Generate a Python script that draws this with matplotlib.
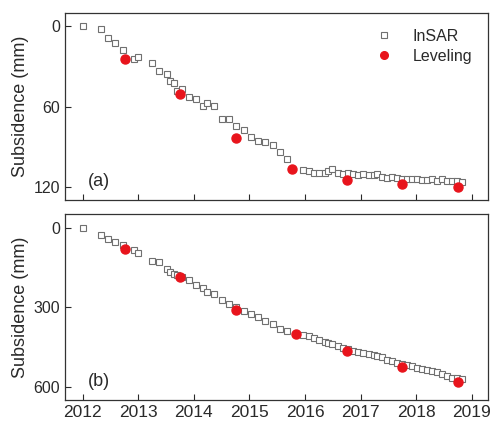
import matplotlib
matplotlib.use("Agg")
import matplotlib.pyplot as plt

plt.rcParams['font.family'] = ['Liberation Sans', 'DejaVu Sans']

# InSAR acquisition dates (decimal year), shared by both points
insar_t = [2012.00, 2012.33, 2012.45, 2012.59, 2012.72, 2012.92, 2012.99, 2013.25,
           2013.38, 2013.51, 2013.58, 2013.64, 2013.69, 2013.79, 2013.91, 2014.04,
           2014.17, 2014.24, 2014.36, 2014.50, 2014.63, 2014.76, 2014.90, 2015.03,
           2015.16, 2015.28, 2015.42, 2015.55, 2015.68, 2015.96,
           2016.07, 2016.16, 2016.25, 2016.36, 2016.42, 2016.49, 2016.60, 2016.69,
           2016.78, 2016.87, 2016.96, 2017.05, 2017.15, 2017.24, 2017.30, 2017.38,
           2017.47, 2017.56, 2017.65, 2017.74, 2017.83, 2017.92, 2018.01, 2018.10,
           2018.19, 2018.28, 2018.37, 2018.46, 2018.55, 2018.64, 2018.73, 2018.82]

insar_a = [0, 2, 8.7, 12.5, 17.5, 24.2, 22.5, 27, 33, 35.7, 40.7, 42.7, 48.2, 47,
           52.5, 54, 59.5, 57, 59.5, 69, 69.5, 74.3, 77.5, 82.5, 85.7, 86.3, 88.7,
           93.7, 99.3, 107.5,
           108.6, 109.5, 110, 109.5, 108.2, 106.7, 110, 110.5, 110, 110.7, 111.2,
           110.7, 111.5, 111.5, 110.5, 112.5, 113.7, 112.5, 113.7, 114.2, 114.2,
           114.5, 114.5, 115, 115, 114.5, 115.5, 114.2, 115.5, 115.7, 116, 116.2]

insar_b = [0, 26, 41, 55, 67, 83, 97, 127, 129, 154, 167, 176, 180, 184, 197, 215,
           227, 242, 250, 272, 287, 297, 315, 325, 338, 351, 364, 383, 390, 403,
           410, 416, 423, 431, 434, 437, 444, 453, 459, 464, 469, 474, 477, 481,
           484, 489, 497, 504, 510, 515, 519, 523, 527, 531, 535, 540, 545, 551,
           559, 566, 568, 570]

# leveling surveys
lev_t = [2012.77, 2013.76, 2014.76, 2015.76, 2016.76, 2017.75, 2018.75]
lev_a = [24.2, 50.5, 83.7, 106.5, 115, 118, 120]
lev_t_b = [2012.77, 2013.76, 2014.76, 2015.84, 2016.76, 2017.75, 2018.75]
lev_b = [80, 186, 311, 400, 464, 525, 582]

years = [2012, 2013, 2014, 2015, 2016, 2017, 2018, 2019]

fig = plt.figure(figsize=(4.91, 4.23), dpi=100)
ax1 = fig.add_axes([0.132, 0.527, 0.862, 0.442])
ax2 = fig.add_axes([0.132, 0.054, 0.862, 0.439])

panels = [(ax1, insar_a, lev_t, lev_a, (130, -10), [0, 60, 120], '(a)'),
          (ax2, insar_b, lev_t_b, lev_b, (650, -50), [0, 300, 600], '(b)')]

for ax, ins, lt, lv, ylim, yt, tag in panels:
    ax.plot(insar_t, ins, 's', ms=5, mfc='white', mec='#707070', mew=0.8,
            label='InSAR')
    ax.plot(lt, lv, 'o', ms=6.5, color='#e8141c', mec='#e8141c', label='Leveling')
    ax.set_xlim(2011.68, 2019.29)
    ax.set_ylim(*ylim)
    ax.set_yticks(yt)
    ax.set_xticks(years)
    ax.set_ylabel('Subsidence (mm)', fontsize=13, color='#2a2a2a', labelpad=3)
    ax.tick_params(direction='in', length=4, colors='#2a2a2a',
                   top=False, right=False)
    ax.tick_params(axis='y', labelsize=11.5)
    ax.tick_params(axis='x', labelsize=12.5)
    for s in ax.spines.values():
        s.set_color('#333333')
        s.set_linewidth(0.9)
    ax.text(0.055, 0.1, tag, transform=ax.transAxes, fontsize=13,
            color='#2a2a2a', va='center')

ax1.tick_params(labelbottom=False)
leg = ax1.legend(loc='upper right', frameon=False, fontsize=11.5, handletextpad=0.8,
                 borderaxespad=0.6, labelspacing=0.3)
for h, size in zip(leg.legend_handles, [3.8, 5.5]):
    h.set_markersize(size)
for t in leg.get_texts():
    t.set_color('#2a2a2a')

fig.savefig('out.png', dpi=100)
